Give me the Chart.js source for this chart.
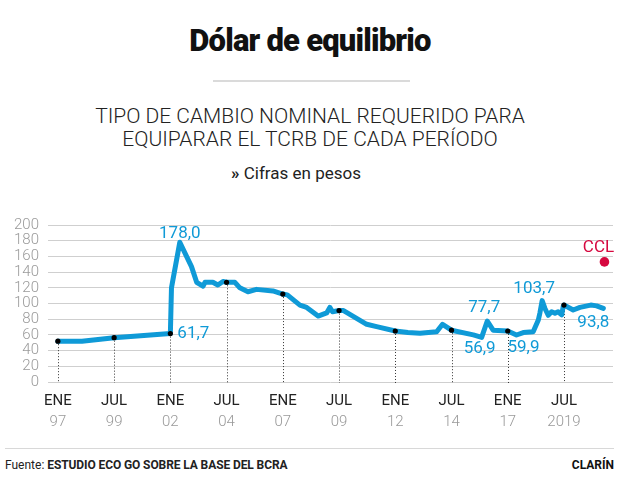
<!DOCTYPE html>
<html><head><meta charset="utf-8">
<script src="https://cdn.jsdelivr.net/npm/chart.js@4"></script>
<style>
body{margin:0;width:620px;height:502px;background:#fff;position:relative;overflow:hidden;font-family:Roboto,"Liberation Sans",sans-serif;}
.abs{position:absolute;left:0;width:620px;text-align:center;}
#title{top:21px;font-family:Roboto,"Liberation Sans",sans-serif;font-weight:900;font-size:31px;letter-spacing:-0.8px;color:#111;line-height:40px;}
#rule{position:absolute;left:213px;width:197px;top:80px;height:2px;background:#dadada;}
#sub{top:105px;font-size:21px;font-weight:300;color:#222;line-height:23px;}
#unit{top:163px;left:-14px;font-size:17px;color:#222;line-height:20px;}
#chartwrap{position:absolute;left:0;top:200px;width:620px;height:240px;}
#footrule{position:absolute;left:5px;width:609px;top:448px;height:1px;background:#d8d8d8;}
#src{position:absolute;left:5px;top:457px;font-size:12px;color:#222;line-height:16px;}
#src b{font-size:12px;letter-spacing:-0.1px;}
#brand{position:absolute;right:6px;top:457px;font-size:12px;font-weight:bold;color:#111;line-height:16px;}
</style></head>
<body>
<div id="title" class="abs">Dólar de equilibrio</div>
<div id="rule"></div>
<div id="sub" class="abs">TIPO DE CAMBIO NOMINAL REQUERIDO PARA<br>EQUIPARAR EL TCRB DE CADA PERÍODO</div>
<div id="unit" class="abs"><b>»</b> Cifras en pesos</div>
<div id="chartwrap"><canvas id="c" width="620" height="240"></canvas></div>
<div id="footrule"></div>
<div id="src">Fuente: <b>ESTUDIO ECO GO SOBRE LA BASE DEL BCRA</b></div>
<div id="brand">CLARÍN</div>
<script>
// ---- DATA ----
const dates = [1997.0,1998.07,1999.5,2002.0,2002.05,2002.42,2002.72,2002.94,2003.17,2003.45,2003.54,2003.89,2004.11,2004.34,2004.5,2004.87,2005.09,2005.45,2005.83,2006.56,2007.0,2007.2,2007.76,2008.06,2008.57,2008.95,2009.09,2009.21,2009.5,2009.7,2010.73,2011.17,2012.0,2012.56,2013.1,2013.84,2014.1,2014.5,2015.47,2015.84,2016.09,2016.35,2017.0,2017.39,2017.69,2018.13,2018.36,2018.43,2018.53,2018.65,2018.8,2018.95,2019.1,2019.24,2019.4,2019.47,2019.5,2019.91,2020.21,2020.69,2020.95,2021.25];
const values = [52,52,56.5,61.7,120,178,160,147,127,122,127,127,123.5,128,127,127,120,115,118,116,112,111,98,95,84,88,95,89.5,91,91,73.5,70.5,65,63,62,64,73.5,66,60,56.9,77.7,66,65,59.9,63,64,79,88,103.7,94,85,89.5,87.5,89.5,85.5,97,98,91.7,95,98,97,93.8];
const tickYears = [1997,1999.5,2002,2004.5,2007,2009.5,2012,2014.5,2017,2019.5];
const tickMonths = ['ENE','JUL','ENE','JUL','ENE','JUL','ENE','JUL','ENE','JUL'];
const tickYearLabels = ['97','99','02','04','07','09','12','14','17','2019'];
const markValues = [52,56.5,61.7,127,112,91,65,66,65,98];
const cclDates = [2021.3];
const cclValues = [153];
const yTicks = [0,20,40,60,80,100,120,140,160,180,200];
const labelDates = [2002.42,2002.0,2016.09,2015.84,2017.39,2018.53,2021.25,2021.3];
const labelValues = [178,61.7,77.7,56.9,59.9,103.7,93.8,153];
const labelTexts = ['178,0','61,7','77,7','56,9','59,9','103,7','93,8','CCL'];

// ---- STYLE ----
const BLUE = '#0f9ad7';
const RED = '#d6083f';
const labelStyle = [
  {dx:0,dy:-9,align:'center',color:BLUE},
  {dx:7,dy:0,align:'left',color:BLUE},
  {dx:-3,dy:-13,align:'center',color:BLUE},
  {dx:-2,dy:11,align:'center',color:BLUE},
  {dx:7,dy:13,align:'center',color:BLUE},
  {dx:-8,dy:-12,align:'center',color:BLUE},
  {dx:-10,dy:14,align:'center',color:BLUE},
  {dx:-6,dy:-14,align:'center',color:RED}
];

const xMin = 1996.56, xMax = 2021.68;

const dropLines = {
  id:'dropLines',
  beforeDatasetsDraw(chart){
    const {ctx, scales:{x,y}} = chart;
    ctx.save();
    ctx.strokeStyle = '#333';
    ctx.lineWidth = 1;
    ctx.setLineDash([1,2]);
    tickYears.forEach((t,i)=>{
      const px = Math.round(x.getPixelForValue(t))+0.5;
      ctx.beginPath();
      ctx.moveTo(px, y.getPixelForValue(markValues[i]));
      ctx.lineTo(px, y.getPixelForValue(0)+1);
      ctx.stroke();
    });
    ctx.restore();
  },
  afterDatasetsDraw(chart){
    const {ctx, scales:{x,y}} = chart;
    ctx.save();
    ctx.font = '17px Roboto, "Liberation Sans", sans-serif';
    ctx.textBaseline = 'middle';
    labelTexts.forEach((t,i)=>{
      const s = labelStyle[i];
      ctx.fillStyle = s.color;
      ctx.textAlign = s.align;
      ctx.fillText(t, x.getPixelForValue(labelDates[i])+s.dx, y.getPixelForValue(labelValues[i])+s.dy);
    });
    ctx.restore();
  }
};

new Chart(document.getElementById('c'), {
  type:'line',
  data:{
    datasets:[
      {data: tickYears.map((t,i)=>({x:t,y:markValues[i]})), showLine:false, pointRadius:2.6, pointBackgroundColor:'#000', pointBorderWidth:0, order:0},
      {data: cclDates.map((t,i)=>({x:t,y:cclValues[i]})), showLine:false, pointRadius:4.8, pointBackgroundColor:RED, pointBorderWidth:0, order:1},
      {data: dates.map((t,i)=>({x:t,y:values[i]})), borderColor:BLUE, borderWidth:5, pointRadius:0, tension:0, borderJoinStyle:'round', borderCapStyle:'round', order:2}
    ]
  },
  options:{
    responsive:false, animation:false,
    layout:{padding:{top:25,right:7,left:0,bottom:0}},
    plugins:{legend:{display:false},tooltip:{enabled:false}},
    scales:{
      x:{type:'linear',min:xMin,max:xMax,position:'bottom',
        grid:{display:false,drawTicks:false},border:{display:false},
        afterBuildTicks(s){s.ticks = tickYears.map(v=>({value:v}));},
        afterFit(s){s.height=28;},
        ticks:{autoSkip:false,maxRotation:0,padding:10,color:'#222',font:{size:15,family:'Roboto'},
          callback(v,i){return tickMonths[i];}}
      },
      x2:{type:'linear',min:xMin,max:xMax,position:'bottom',
        grid:{display:false,drawTicks:false},border:{display:false},
        afterBuildTicks(s){s.ticks = tickYears.map(v=>({value:v}));},
        afterFit(s){s.height=30;},
        ticks:{autoSkip:false,maxRotation:0,padding:3,color:'#999',font:{size:15,family:'Roboto',weight:'300'},
          callback(v,i){return tickYearLabels[i];}}
      },
      y:{min:0,max:200,
        afterBuildTicks(s){s.ticks = yTicks.map(v=>({value:v}));},
        afterFit(s){s.width=48;},
        grid:{color:'#cfcfcf',lineWidth:1,drawTicks:false},border:{display:false},
        ticks:{autoSkip:false,padding:9,color:'#9a9a9a',font:{size:15,family:'Roboto',weight:'300'}}
      }
    }
  },
  plugins:[dropLines]
});
</script>
</body></html>
